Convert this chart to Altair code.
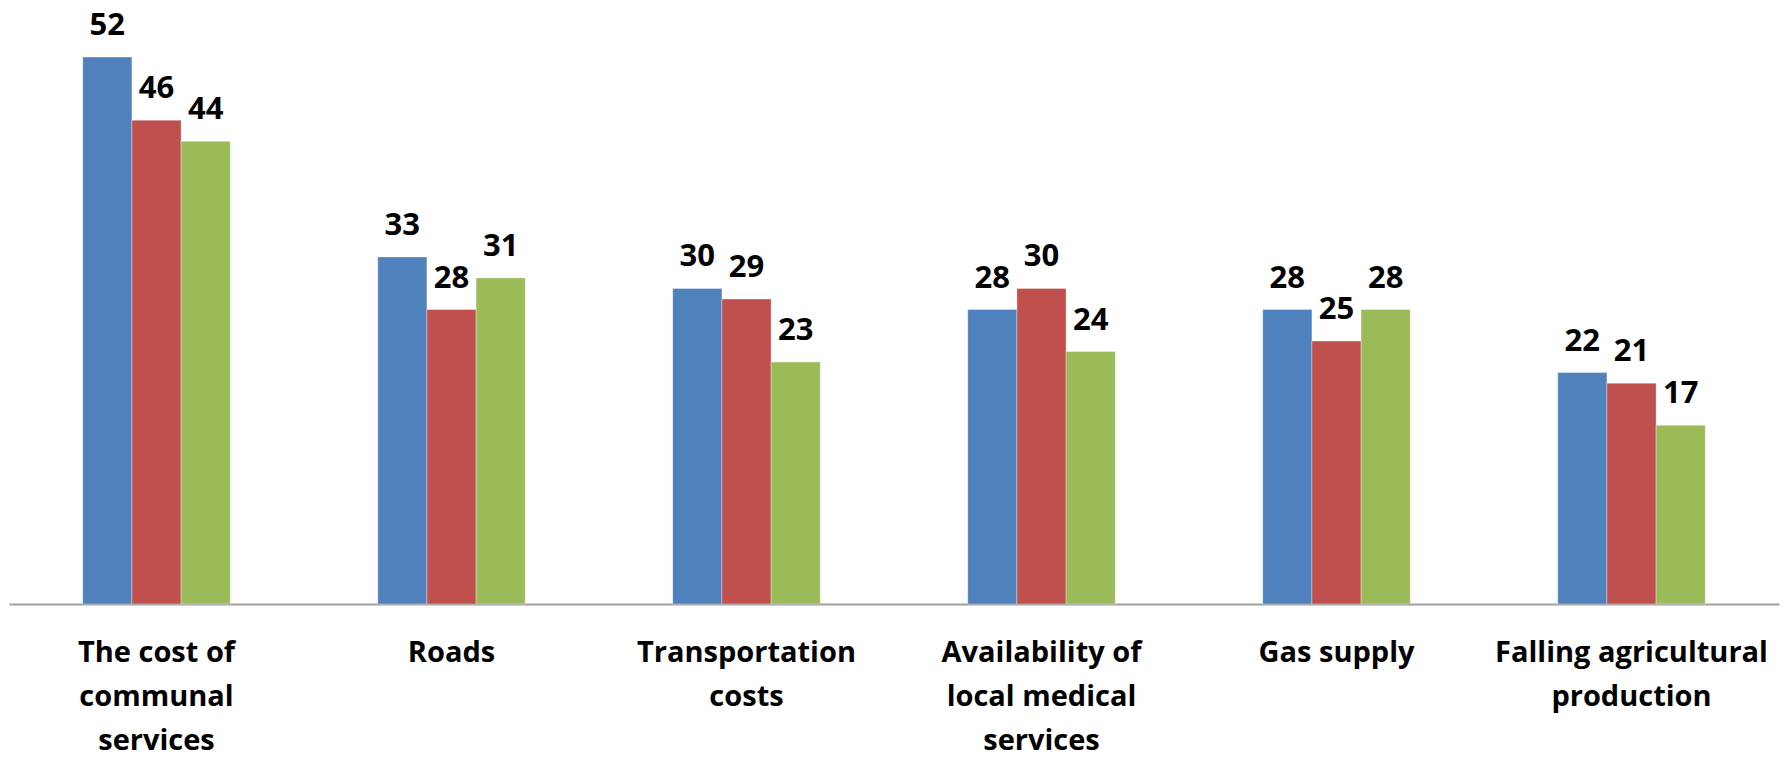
import altair as alt
import pandas as pd

categories = [
    "The cost of\ncommunal\nservices",
    "Roads",
    "Transportation\ncosts",
    "Availability of\nlocal medical\nservices",
    "Gas supply",
    "Falling agricultural\nproduction",
]
series_names = ["Series 1", "Series 2", "Series 3"]
series1 = [52, 33, 30, 28, 28, 22]
series2 = [46, 28, 29, 30, 25, 21]
series3 = [44, 31, 23, 24, 28, 17]
colors = ["#4F81BD", "#C0504D", "#9BBB59"]

rows = []
for s_name, vals in zip(series_names, [series1, series2, series3]):
    for c, v in zip(categories, vals):
        rows.append({"category": c, "series": s_name, "value": v})
df = pd.DataFrame(rows)

FONT = "Open Sans"

x_enc = alt.X(
    "category:N",
    sort=categories,
    scale=alt.Scale(paddingInner=0.5, paddingOuter=0.25),
    axis=alt.Axis(
        title=None,
        labelAngle=0,
        labelExpr="split(datum.label, '\\n')",
        labelFont=FONT,
        labelFontWeight="bold",
        labelFontSize=29,
        labelColor="#000000",
        labelPadding=34,
        labelLineHeight=44,
        labelBaseline="top",
        labelAlign="center",
        labelOverlap=False,
        labelLimit=0,
        ticks=False,
        tickSize=0,
        domainColor="#A0A0A0",
        domainWidth=2,
        grid=False,
    ),
)
xoff = alt.XOffset(
    "series:N",
    sort=series_names,
    scale=alt.Scale(paddingInner=0, paddingOuter=0),
)
y_enc = alt.Y("value:Q", scale=alt.Scale(domain=[0, 56], nice=False, zero=True), axis=None)
color_enc = alt.Color(
    "series:N",
    sort=series_names,
    scale=alt.Scale(domain=series_names, range=colors),
    legend=None,
)

bars = alt.Chart(df).mark_bar(stroke="#FFFFFF", strokeOpacity=0.35, strokeWidth=1).encode(
    x=x_enc, xOffset=xoff, y=y_enc, color=color_enc
)
labels = alt.Chart(df).mark_text(
    font=FONT, fontWeight="bold", fontSize=31, color="#000000",
    baseline="alphabetic", align="center", dy=-22,
).encode(
    x=alt.X("category:N", sort=categories),
    xOffset=alt.XOffset("series:N", sort=series_names),
    y=alt.Y("value:Q"),
    text=alt.Text("value:Q"),
)

chart = (
    alt.layer(bars, labels)
    .properties(
        width=1770,
        height=589,
        background="#FFFFFF",
        autosize=alt.AutoSizeParams(type="none"),
        padding={"left": 1, "top": 7, "right": 4, "bottom": 147},
    )
    .configure_view(strokeWidth=0, stroke="transparent")
)

chart.save("out.html", embed_options={"renderer": "svg", "actions": False})
